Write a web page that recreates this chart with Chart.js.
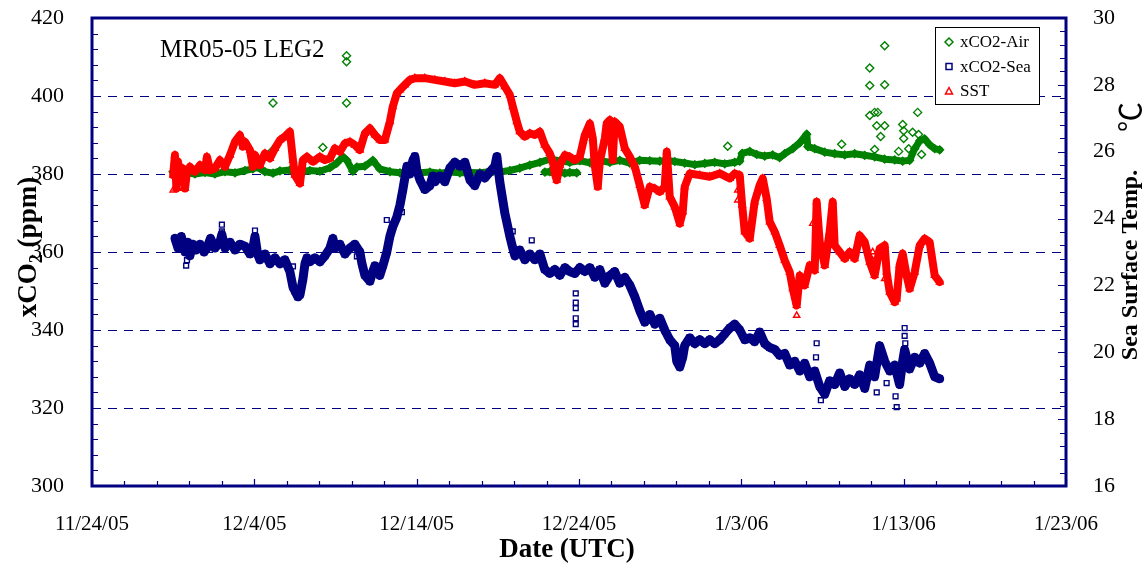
<!DOCTYPE html>
<html>
<head>
<meta charset="utf-8">
<script src="https://cdn.jsdelivr.net/npm/chart.js@4.4.1/dist/chart.umd.min.js"></script>
<style>
  html, body { margin: 0; padding: 0; background: #ffffff; }
  canvas { display: block; }
</style>
</head>
<body>
<canvas id="c" width="1148" height="569"></canvas>
<script>
// Tick labels for the date axis (x = days since 11/24/05)
const dateLabels = ['11/24/05', '12/4/05', '12/14/05', '12/24/05', '1/3/06', '1/13/06', '1/23/06'];
const seriesNames = ['xCO2-Air', 'xCO2-Sea', 'SST'];
const cruiseName = 'MR05-05 LEG2';

// Atmospheric xCO2 (ppm); a null value splits the record where two segments overlap
const airDays = [4.99, 5.42, 5.85, 6.34, 6.96, 7.57, 8.19, 8.81, 9.42, 9.91, 10.16, 10.65, 11.15, 11.58, 12.19,
  12.81, 13.42, 14.04, 14.66, 15.08, 15.46, 15.70, 16.07, 16.32, 16.81, 17.30, 17.73, 18.35, 18.97, 19.58,
  20.20, 20.81, 21.43, 22.04, 22.66, 23.28, 23.89, 24.51, 25.12, 25.74, 26.35, 26.97, 27.59, 28.20, 28.82,
  29.43, 30.05, 30.67, 31.28, 31.90, 32.51, 33.13, 33.74, 34.36, 34.98, 35.41, 35.90, 36.51, 37.13, 37.75,
  38.36, 38.98, 39.59, 39.90, 40.05, 40.52, 40.95, 41.44, 41.93, 42.36, 42.67, 43.17, 43.60, 44.03, 44.10,
  44.52, 45.14, 45.75, 46.37, 46.98, 47.60, 48.21, 48.83, 49.45, 49.94, 50.37, 50.68, 50.99, 51.29, 51.60,
  51.91, 52.22,
  52.22,
  27.90, 28.20, 28.51, 28.82, 29.13, 29.43, 29.86];
const airPpm = [380.6, 380.0, 380.3, 380.0, 380.4, 380.0, 380.6, 380.3, 380.9, 381.3, 381.8, 380.6, 380.2, 380.8, 381.0,
  380.5, 380.9, 380.7, 381.6, 382.8, 384.4, 383.5, 380.7, 381.8, 382.0, 383.5, 381.3, 380.6, 380.3, 380.5,
  380.3, 380.5, 380.2, 380.5, 380.3, 380.4, 380.3, 380.6, 380.5, 380.9, 381.5, 382.3, 383.0, 383.8, 383.4,
  383.0, 383.4, 382.9, 383.4, 383.0, 383.5, 382.8, 383.5, 383.4, 383.3, 383.5, 383.2, 382.8, 382.4, 382.7,
  383.0, 382.6, 383.0, 383.3, 385.3, 385.8, 385.0, 384.6, 384.9, 384.2, 385.2, 386.5, 388.0, 390.2, 387.0,
  386.5, 385.6, 385.2, 384.9, 385.2, 384.8, 384.4, 383.8, 383.6, 383.3, 383.5, 386.5, 388.5, 389.0, 387.5,
  386.5, 386.2,
  null,
  380.5, 380.6, 380.3, 380.5, 380.2, 380.4, 380.3];

// Isolated atmospheric readings well above the baseline
const airSpikeDays = [11.15, 11.09, 15.68, 15.68, 15.68, 14.22, 39.16, 46.18, 47.91, 48.83, 47.91, 48.83, 47.91,
  48.21, 48.40, 48.34, 48.83, 48.58, 50.86, 49.94, 50.00, 50.55, 50.92, 50.00, 48.21, 49.69, 50.31, 51.10];
const airSpikePpm = [398.2, 385.9, 410.3, 408.8, 398.2, 386.8, 387.1, 387.6, 407.2, 412.9, 402.7, 402.9, 395.0,
  395.8, 395.8, 392.4, 392.4, 389.6, 395.8, 392.7, 391.1, 390.7, 390.1, 389.1, 386.3, 385.8, 386.5, 385.0];

// Seawater xCO2 (ppm)
const seaDays = [5.11, 5.30, 5.50, 5.73, 5.90, 6.03, 6.20, 6.40, 6.65, 6.90, 7.08, 7.30, 7.57, 7.88, 8.00,
  8.19, 8.50, 8.81, 9.11, 9.42, 9.73, 9.91, 10.04, 10.20, 10.34, 10.65, 10.96, 11.27, 11.58, 11.88,
  12.19, 12.38, 12.50, 12.68, 12.81, 12.99, 13.12, 13.24, 13.42, 13.73, 14.04, 14.35, 14.66, 14.84, 14.96,
  15.27, 15.58, 15.89, 16.19, 16.50, 16.63, 16.81, 17.12, 17.30, 17.43, 17.73, 17.92, 18.16, 18.35, 18.53,
  18.78, 18.97, 19.15, 19.27, 19.40, 19.58, 19.77, 19.89, 20.01, 20.20, 20.50, 20.81, 21.00, 21.12, 21.43,
  21.74, 22.04, 22.35, 22.66, 22.97, 23.28, 23.58, 23.89, 24.20, 24.51, 24.82, 24.94, 25.12, 25.43, 25.74,
  25.92, 26.05, 26.35, 26.66, 26.97, 27.28, 27.59, 27.89, 28.20, 28.51, 28.82, 29.13, 29.43, 29.74, 30.05,
  30.36, 30.67, 30.97, 31.28, 31.59, 31.90, 32.20, 32.51, 32.82, 33.13, 33.44, 33.74, 34.05, 34.36, 34.67,
  34.98, 35.28, 35.59, 35.90, 36.02, 36.21, 36.39, 36.51, 36.82, 37.13, 37.44, 37.75, 38.05, 38.36, 38.67,
  38.98, 39.29, 39.59, 39.90, 40.21, 40.52, 40.82, 41.13, 41.44, 41.75, 42.06, 42.36, 42.67, 42.98, 43.29,
  43.60, 43.90, 44.21, 44.52, 44.83, 45.14, 45.44, 45.75, 46.06, 46.37, 46.67, 46.98, 47.29, 47.60, 47.91,
  48.21, 48.52, 48.83, 49.14, 49.45, 49.75, 49.94, 50.06, 50.37, 50.68, 50.99, 51.29, 51.60, 51.91, 52.22];
const seaPpm = [363.5, 361.0, 364.0, 360.0, 362.5, 359.0, 362.0, 360.5, 362.0, 360.0, 361.0, 363.5, 361.0, 362.5, 364.5,
  361.0, 362.5, 360.5, 362.0, 361.5, 359.5, 361.0, 364.0, 359.5, 358.0, 359.5, 357.0, 358.5, 357.0, 358.0,
  355.0, 351.0, 350.0, 348.5, 349.0, 353.0, 357.0, 358.5, 357.5, 358.5, 357.5, 359.0, 361.0, 363.5, 361.0,
  362.0, 359.5, 361.0, 362.0, 360.0, 357.0, 354.0, 352.5, 355.0, 356.5, 354.0, 356.5, 360.0, 364.0, 366.5,
  369.0, 372.0, 376.0, 379.0, 382.0, 380.0, 383.5, 384.5, 381.0, 378.5, 376.0, 377.0, 379.5, 378.0, 379.5,
  378.0, 381.5, 383.0, 382.0, 383.0, 378.5, 377.0, 380.0, 379.0, 380.5, 382.0, 384.5, 378.0, 370.0, 364.0,
  361.0, 359.0, 360.5, 358.0, 359.5, 358.0, 359.5, 355.5, 354.5, 355.5, 354.0, 356.0, 355.0, 354.5, 356.0,
  355.0, 356.0, 353.5, 355.5, 352.0, 354.0, 355.0, 352.0, 353.5, 351.5, 348.5, 345.0, 342.0, 344.0, 341.5,
  343.0, 340.0, 337.5, 336.0, 332.0, 330.5, 333.0, 336.0, 338.0, 336.5, 337.5, 336.5, 337.5, 336.5, 337.5,
  339.0, 340.5, 341.5, 340.0, 337.5, 338.0, 337.0, 339.5, 336.5, 335.5, 335.0, 333.5, 334.0, 331.0, 332.0,
  329.5, 331.5, 328.0, 329.5, 325.5, 323.5, 327.0, 326.0, 329.0, 325.5, 327.5, 326.0, 328.5, 325.0, 331.0,
  328.0, 336.0, 332.0, 329.5, 331.0, 326.0, 332.0, 335.0, 330.0, 333.0, 331.5, 334.0, 331.5, 328.0, 327.5];

// Isolated seawater readings off the main record
const seaSpikeDays = [5.85, 5.80, 8.00, 8.00, 10.04, 12.38, 12.68, 16.32, 16.63, 18.16, 19.09, 19.89, 25.92,
  27.09, 29.80, 29.80, 29.80, 29.80, 29.80, 44.64, 44.60, 49.57, 49.50, 50.06, 50.06, 50.10, 48.95, 48.34, 44.90];
const seaSpikePpm = [357.9, 356.5, 367.0, 365.3, 365.5, 356.3, 348.4, 358.9, 357.0, 368.2, 370.2, 384.7, 365.3,
  363.0, 349.4, 347.0, 345.6, 343.0, 341.5, 336.6, 333.0, 320.2, 323.0, 340.5, 338.5, 336.6, 326.4, 324.0, 322.0];

// Sea surface temperature (deg C)
const sstDays = [5.00, 5.11, 5.20, 5.30, 5.42, 5.60, 5.73, 5.85, 6.03, 6.34, 6.65, 6.96, 7.08, 7.27, 7.57,
  7.88, 8.19, 8.50, 8.81, 9.11, 9.30, 9.42, 9.73, 9.91, 10.04, 10.34, 10.65, 10.96, 11.27, 11.58,
  11.88, 12.19, 12.38, 12.50, 12.81, 12.99, 13.24, 13.61, 14.04, 14.35, 14.66, 14.96, 15.27, 15.58, 15.89,
  16.19, 16.50, 16.81, 17.12, 17.43, 17.73, 18.04, 18.35, 18.53, 18.78, 18.97, 19.27, 19.58, 19.89, 20.50,
  21.12, 21.74, 22.35, 22.97, 23.58, 24.20, 24.82, 25.12, 25.43, 25.74, 25.92, 26.17, 26.35, 26.66, 26.97,
  27.28, 27.59, 27.89, 28.20, 28.39, 28.51, 28.63, 28.82, 29.13, 29.43, 29.74, 30.05, 30.36, 30.67, 30.85,
  30.97, 31.16, 31.28, 31.59, 31.71, 31.90, 32.08, 32.20, 32.51, 32.82, 33.13, 33.44, 33.74, 34.05, 34.36,
  34.67, 34.98, 35.28, 35.41, 35.59, 35.90, 36.21, 36.39, 36.51, 36.82, 37.44, 38.05, 38.67, 39.29, 39.59,
  39.90, 40.05, 40.21, 40.52, 40.82, 41.13, 41.32, 41.56, 41.75, 42.06, 42.36, 42.67, 42.98, 43.17, 43.41,
  43.60, 43.90, 44.21, 44.52, 44.64, 44.83, 45.14, 45.44, 45.63, 45.75, 46.06, 46.37, 46.67, 46.98, 47.29,
  47.60, 47.91, 48.21, 48.52, 48.83, 48.95, 49.14, 49.45, 49.57, 49.75, 49.94, 50.18, 50.37, 50.68, 50.99,
  51.29, 51.60, 51.91, 52.22];
const sstTemp = [25.30, 25.90, 24.90, 25.70, 25.20, 25.50, 24.90, 25.40, 25.55, 25.40, 25.60, 25.45, 25.85, 25.45, 25.50,
  25.75, 25.55, 25.90, 26.30, 26.50, 26.15, 26.30, 26.05, 25.55, 25.90, 25.60, 25.95, 25.80, 26.10, 26.35,
  26.45, 26.60, 25.75, 25.30, 25.05, 25.75, 25.85, 25.70, 25.85, 25.75, 25.80, 26.10, 26.00, 26.25, 26.30,
  26.20, 26.05, 26.55, 26.70, 26.50, 26.35, 26.35, 26.90, 27.35, 27.75, 27.85, 28.00, 28.15, 28.20, 28.20,
  28.15, 28.10, 28.05, 28.10, 28.00, 28.05, 28.00, 28.20, 27.95, 27.70, 27.35, 26.90, 26.60, 26.45, 26.55,
  26.50, 26.60, 26.20, 25.95, 25.70, 25.35, 25.15, 25.60, 25.90, 25.85, 25.75, 25.85, 26.50, 26.85, 26.40,
  25.60, 24.95, 25.70, 26.40, 26.85, 26.95, 25.75, 26.90, 26.75, 26.10, 25.85, 25.55, 25.00, 24.40, 24.95,
  24.90, 24.80, 24.95, 26.00, 24.65, 24.35, 23.85, 24.20, 24.95, 25.35, 25.30, 25.25, 25.35, 25.20, 25.35,
  25.30, 24.40, 23.60, 23.40, 24.50, 25.00, 25.20, 24.60, 23.90, 23.60, 23.20, 22.75, 22.40, 21.90, 21.40,
  22.30, 22.00, 22.60, 22.45, 24.50, 23.30, 22.60, 23.60, 24.50, 23.20, 23.00, 22.80, 23.00, 22.80, 23.50,
  23.30, 22.70, 22.30, 23.10, 23.20, 22.40, 21.80, 21.50, 21.60, 22.60, 22.95, 22.30, 21.90, 22.40, 23.20,
  23.40, 23.30, 22.30, 22.10];

// Isolated temperature readings off the main record
const sstSpikeDays = [5.00, 5.60, 39.78, 39.78, 43.41, 43.41, 44.40, 48.09, 48.09, 48.83];
const sstSpikeTemp = [24.85, 24.90, 24.85, 24.55, 21.10, 21.50, 23.85, 23.00, 22.75, 22.20];

const GREEN = '#008000';
const NAVY = '#000080';
const RED = '#ff0000';
const SERIF = '"Liberation Serif", "DejaVu Serif", serif';

const pairs = (xs, ys) => xs.map((x, i) => ({ x: x, y: ys[i] }));

// Continuous record: thick line with markers so the dense sampling reads as a band
function band(label, xs, ys, color, style, axis, order, width) {
  return {
    label: label, data: pairs(xs, ys), yAxisID: axis, order: order,
    showLine: true, borderColor: color, borderWidth: width,
    borderJoinStyle: 'round', borderCapStyle: 'round', spanGaps: false,
    pointStyle: style, pointRadius: 4, pointBorderWidth: 1.2,
    pointBorderColor: color, pointBackgroundColor: color, pointHoverRadius: 0
  };
}
// Single readings: hollow markers only
function spikes(xs, ys, color, style, axis, order, r) {
  return {
    label: '', data: pairs(xs, ys), yAxisID: axis, order: order, showLine: false,
    pointStyle: style, pointRadius: r, pointBorderWidth: 1.4,
    pointBorderColor: color, pointBackgroundColor: 'rgba(255,255,255,0)', pointHoverRadius: 0
  };
}

const datasets = [
  band(seriesNames[0], airDays, airPpm, GREEN, 'rectRot', 'y', 3, 7),
  spikes(airSpikeDays, airSpikePpm, GREEN, 'rectRot', 'y', 3, 4),
  band(seriesNames[1], seaDays, seaPpm, NAVY, 'rect', 'y', 2, 9),
  spikes(seaSpikeDays, seaSpikePpm, NAVY, 'rect', 'y', 2, 3.4),
  band(seriesNames[2], sstDays, sstTemp, RED, 'triangle', 'y2', 1, 8),
  spikes(sstSpikeDays, sstSpikeTemp, RED, 'triangle', 'y2', 1, 3.6)
];

// Marker glyphs used in the legend box
function marker(ctx, style, x, y, color) {
  ctx.save();
  ctx.strokeStyle = color; ctx.lineWidth = 1.5; ctx.beginPath();
  if (style === 'rectRot') {
    ctx.moveTo(x, y - 4); ctx.lineTo(x + 4, y); ctx.lineTo(x, y + 4); ctx.lineTo(x - 4, y); ctx.closePath();
  } else if (style === 'rect') {
    ctx.rect(x - 3, y - 3, 6, 6);
  } else {
    ctx.moveTo(x, y - 3.5); ctx.lineTo(x + 3.5, y + 3); ctx.lineTo(x - 3.5, y + 3); ctx.closePath();
  }
  ctx.stroke();
  ctx.restore();
}

const decor = {
  id: 'decor',
  beforeDatasetsDraw(chart) {
    const { ctx, chartArea: a, scales } = chart;
    const y = scales.y;
    ctx.save();
    ctx.strokeStyle = NAVY; ctx.lineWidth = 1; ctx.setLineDash([9, 7]);
    y.ticks.forEach(t => {
      if (t.value <= y.min || t.value >= y.max) return;
      const py = Math.round(y.getPixelForValue(t.value)) + 0.5;
      ctx.beginPath(); ctx.moveTo(a.left, py); ctx.lineTo(a.right, py); ctx.stroke();
    });
    ctx.restore();
  },
  afterDatasetsDraw(chart) {
    const { ctx, chartArea: a, scales } = chart;
    const { x, y, y2 } = scales;
    ctx.save();
    ctx.strokeStyle = NAVY;
    // inward tick marks
    ctx.lineWidth = 1.2;
    ctx.beginPath();
    for (let d = x.min; d <= x.max; d += 2) {
      const px = Math.round(x.getPixelForValue(d)) + 0.5;
      const len = d % 10 === 0 ? 7 : 5;
      ctx.moveTo(px, a.bottom); ctx.lineTo(px, a.bottom - len);
    }
    for (let v = y.min; v <= y.max; v += 4) {
      const py = Math.round(y.getPixelForValue(v)) + 0.5;
      const len = v % 20 === 0 ? 8 : 6;
      ctx.moveTo(a.left, py); ctx.lineTo(a.left + len, py);
    }
    for (let i = 0; i <= 35; i++) {
      const v = y2.min + i * 0.4;
      const py = Math.round(y2.getPixelForValue(v)) + 0.5;
      const len = i % 5 === 0 ? 8 : 6;
      ctx.moveTo(a.right, py); ctx.lineTo(a.right - len, py);
    }
    ctx.stroke();
    // plot frame
    ctx.lineWidth = 3;
    ctx.strokeRect(a.left, a.top, a.right - a.left, a.bottom - a.top);
    ctx.restore();

    // cruise label
    ctx.save();
    ctx.fillStyle = '#000';
    ctx.font = '25px ' + SERIF;
    ctx.textBaseline = 'alphabetic';
    ctx.fillText(cruiseName, 160, 57);
    ctx.restore();

    // legend box
    ctx.save();
    const lx = 935, ly = 27, lw = 104, lh = 77;
    ctx.fillStyle = '#fff';
    ctx.fillRect(lx, ly, lw, lh);
    ctx.strokeStyle = '#000'; ctx.lineWidth = 1;
    ctx.strokeRect(lx + 0.5, ly + 0.5, lw, lh);
    const styles = ['rectRot', 'rect', 'triangle'];
    const colors = [GREEN, NAVY, RED];
    ctx.font = '17px ' + SERIF;
    ctx.textBaseline = 'middle';
    ctx.fillStyle = '#000';
    seriesNames.forEach((name, i) => {
      const ry = 42 + i * 24.5;
      marker(ctx, styles[i], 949, ry, colors[i]);
      ctx.fillText(name, 960, ry + 1);
    });
    ctx.restore();
  },
  afterDraw(chart) {
    const { ctx } = chart;
    ctx.save();
    ctx.fillStyle = '#000';
    // x axis title
    ctx.font = 'bold 27px ' + SERIF;
    ctx.textAlign = 'center'; ctx.textBaseline = 'middle';
    ctx.fillText('Date (UTC)', 567, 550);

    // left axis title with subscript
    ctx.save();
    ctx.translate(27, 247);
    ctx.rotate(-Math.PI / 2);
    const big = 'bold 27px ' + SERIF, small = 'bold 18px ' + SERIF;
    ctx.font = big; const w1 = ctx.measureText('xCO').width; const w3 = ctx.measureText(' (ppm)').width;
    ctx.font = small; const w2 = ctx.measureText('2').width;
    let sx = -(w1 + w2 + w3) / 2;
    ctx.textAlign = 'left'; ctx.textBaseline = 'alphabetic';
    ctx.font = big; ctx.fillText('xCO', sx, 9); sx += w1;
    ctx.font = small; ctx.fillText('2', sx, 15); sx += w2;
    ctx.font = big; ctx.fillText(' (ppm)', sx, 9);
    ctx.restore();

    // right axis title
    ctx.save();
    ctx.translate(1131, 265);
    ctx.rotate(-Math.PI / 2);
    ctx.font = 'bold 24px ' + SERIF;
    ctx.textAlign = 'center'; ctx.textBaseline = 'middle';
    ctx.fillText('Sea Surface Temp.', 0, 0);
    ctx.font = '30px "Liberation Serif", "Noto Sans CJK JP", serif';
    ctx.fillText('\u2103', 148, 2);
    ctx.restore();
    ctx.restore();
  }
};

const tickFont = { family: SERIF, size: 22 };
// Fixed axis box sizes so the plot area sits at a set place on the canvas
const fitVertical = w => s => { s.width = w; s.paddingTop = 0; s.paddingBottom = 0; };

new Chart(document.getElementById('c'), {
  type: 'scatter',
  data: { datasets: datasets },
  options: {
    responsive: false,
    animation: false,
    devicePixelRatio: 1,
    layout: { padding: { top: 18, left: 0, right: 0, bottom: 0 } },
    plugins: { legend: { display: false }, tooltip: { enabled: false } },
    events: [],
    scales: {
      x: {
        type: 'linear', position: 'bottom', min: 0, max: 60,
        grid: { display: false }, border: { display: false },
        ticks: {
          stepSize: 10, autoSkip: false, maxRotation: 0, padding: 18,
          color: '#000', font: { family: SERIF, size: 21 },
          callback: v => dateLabels[Math.round(v / 10)]
        },
        afterFit: s => { s.height = 83; s.paddingLeft = 0; s.paddingRight = 0; }
      },
      y: {
        type: 'linear', position: 'left', min: 300, max: 420,
        grid: { display: false }, border: { display: false },
        ticks: { stepSize: 20, padding: 20, color: '#000', font: tickFont },
        afterFit: fitVertical(92)
      },
      y2: {
        type: 'linear', position: 'right', min: 16, max: 30,
        grid: { display: false }, border: { display: false },
        ticks: { stepSize: 2, padding: 19, color: '#000', font: tickFont },
        afterFit: fitVertical(82)
      }
    }
  },
  plugins: [decor]
});
</script>
</body>
</html>
